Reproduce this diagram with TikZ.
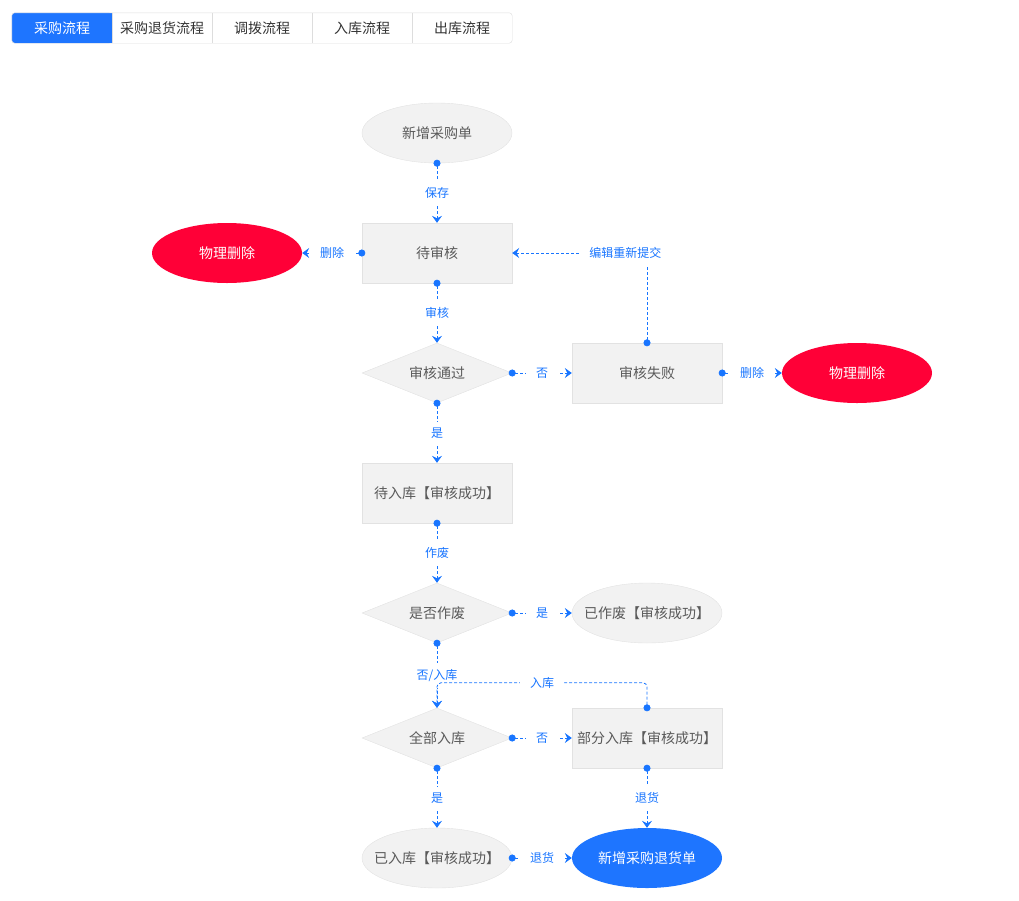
\documentclass[tikz,border=0pt]{standalone}
\usepackage{fontspec}
\setmainfont{Noto Sans CJK SC}
\usetikzlibrary{shapes.geometric, arrows.meta}

\definecolor{flowblue}{RGB}{24,117,255}
\definecolor{tabblue}{RGB}{30,117,255}
\definecolor{delred}{RGB}{255,0,55}
\definecolor{boxfill}{RGB}{242,242,242}
\definecolor{boxline}{RGB}{226,226,226}
\definecolor{boxtext}{RGB}{90,90,90}
\definecolor{tabline}{RGB}{221,221,221}
\definecolor{tabtext}{RGB}{51,51,51}

\tikzset{
  box/.style={rectangle, draw=boxline, fill=boxfill, text=boxtext, minimum width=150pt, minimum height=60pt, inner sep=0pt, font=\fontsize{14}{16}\selectfont},
  oval/.style={box, ellipse, inner xsep=-12pt},
  judge/.style={box, diamond, aspect=2.5},
  redoval/.style={oval, draw=none, fill=delred, text=white},
  blueoval/.style={oval, draw=none, fill=tabblue, text=white},
  tab/.style={rectangle, minimum width=100pt, minimum height=30pt, inner sep=0pt, text=tabtext, font=\fontsize{14}{16}\selectfont},
  flow/.style={draw=flowblue, line width=0.8pt, dash pattern=on 3pt off 2pt, {Circle[length=7pt]}-{Stealth[length=7pt,width=10pt,inset=2.5pt]}, shorten <=-3.5pt},
  lbl/.style={fill=white, text=flowblue, inner xsep=10pt, inner ysep=6pt, font=\fontsize{12}{14}\selectfont},
}

\begin{document}
\begin{tikzpicture}[x=1pt, y=-1pt]
\useasboundingbox (0,0) rectangle (1019,900);

% --- タブ ---
\node[tab] (tab1) at (62,28) {};
\fill[tabblue, rounded corners=3pt] (tab1.north west) rectangle (tab1.south east);
\fill[tabblue] (tab1.north) rectangle (tab1.south east);
\node[tab, text=white] at (tab1) {采购流程};
\foreach \txt [count=\i from 2] in {采购退货流程, 调拨流程, 入库流程, 出库流程} {
    \node[tab] (tab\i) at ({100*\i-38},28) {\txt};
    \draw[tabline] (tab\i.north west) -- (tab\i.south west);
}
\draw[tabline, rounded corners=3pt] (tab1.north west) rectangle (tab5.south east);

% --- ノード ---
\node[oval] (new) at (437,133) {新增采购单};
\node[box] (audit) at (437,253) {待审核};
\node[redoval] (delL) at (227,253) {物理删除};
\node[judge] (pass) at (437,373) {审核通过};
\node[box] (fail) at (647,373) {审核失败};
\node[redoval] (delR) at (857,373) {物理删除};
\node[box] (wait) at (437,493) {待入库【审核成功】};
\node[judge] (void) at (437,613) {是否作废};
\node[oval] (voided) at (647,613) {已作废【审核成功】};
\node[judge] (allin) at (437,738) {全部入库};
\node[box] (part) at (647,738) {部分入库【审核成功】};
\node[oval] (stored) at (437,858) {已入库【审核成功】};
\node[blueoval] (ret) at (647,858) {新增采购退货单};

% --- 接続線 ---
\draw[flow] (new.south) -- node[lbl] {保存} (audit.north);
\draw[flow] (audit.west) -- node[lbl] {删除} (delL.east);
\draw[flow] (audit.south) -- node[lbl] {审核} (pass.north);
\draw[flow] (pass.east) -- node[lbl] {否} (fail.west);
\draw[flow] (fail.north) |- node[lbl, pos=0.58] {编辑重新提交} (audit.east);
\draw[flow] (fail.east) -- node[lbl] {删除} (delR.west);
\draw[flow] (pass.south) -- node[lbl] {是} (wait.north);
\draw[flow] (wait.south) -- node[lbl] {作废} (void.north);
\draw[flow] (void.east) -- node[lbl] {是} (voided.west);
\draw[flow] (void.south) -- node[lbl] {否/入库} (allin.north);
\draw[flow, rounded corners=4pt] (part.north) -- ([yshift=25pt]part.north) -| node[lbl, pos=0.25] {入库} (allin.north);
\draw[flow] (allin.east) -- node[lbl] {否} (part.west);
\draw[flow] (allin.south) -- node[lbl] {是} (stored.north);
\draw[flow] (part.south) -- node[lbl] {退货} (ret.north);
\draw[flow] (stored.east) -- node[lbl] {退货} (ret.west);

\end{tikzpicture}
\end{document}
